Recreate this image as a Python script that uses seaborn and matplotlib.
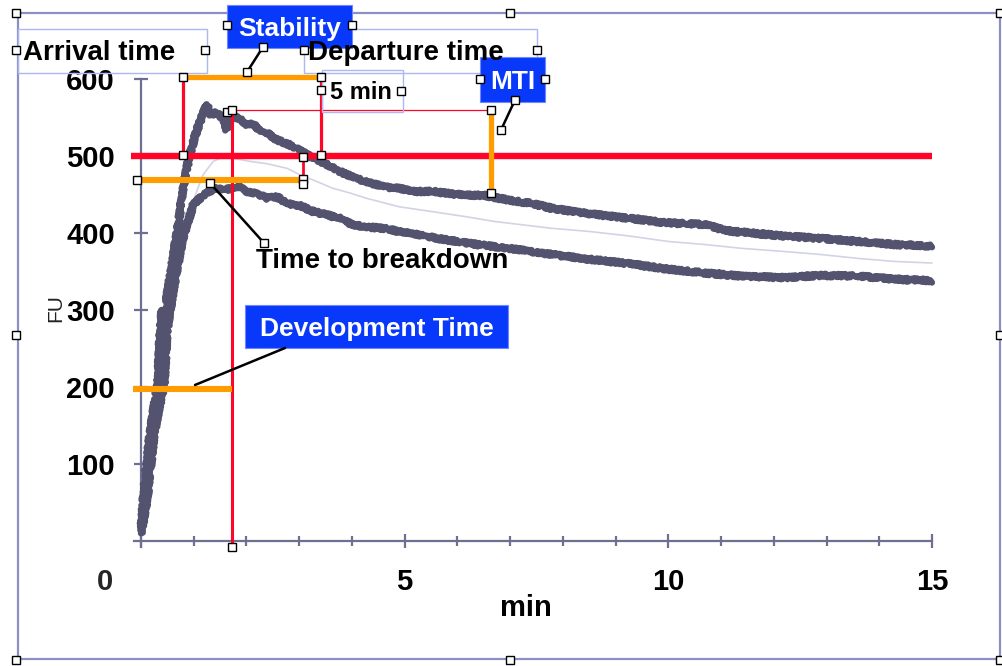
import matplotlib
matplotlib.use("Agg")
import matplotlib.pyplot as plt
import matplotlib.transforms as mtransforms
from matplotlib.patches import Rectangle
from matplotlib.lines import Line2D
import pandas as pd
import seaborn as sns

# ---------------- data ----------------
upper_t = [0.00, 0.04, 0.10, 0.17, 0.25, 0.32, 0.36, 0.40, 0.43, 0.50, 0.60, 0.70, 0.78, 0.90,
           1.02, 1.12, 1.25, 1.31, 1.44, 1.56, 1.63, 1.72, 1.88, 2.00, 2.12, 2.26, 2.39, 2.58,
           2.77, 3.00, 3.26, 3.50, 3.77, 4.00, 4.26, 4.60, 4.90, 5.22, 5.54, 5.86, 6.18, 6.50,
           6.80, 7.13, 7.45, 7.80, 8.50, 9.27, 10.0, 10.7, 11.1, 12.2, 12.9, 13.6, 14.3, 15.0]
upper_fu = [15, 53, 95, 140, 175, 205, 270, 300, 265, 321, 364, 407, 450, 495,
            525, 545, 567, 553, 557, 548, 534, 553, 548, 540, 542, 532, 530, 521,
            516, 508, 497, 490, 480, 473, 467, 460, 458, 454, 454, 451, 449, 449,
            445, 441, 438, 432, 425, 419, 413, 411, 403, 396, 393, 389, 385, 383]

lower_t = [0.00, 0.11, 0.18, 0.25, 0.35, 0.44, 0.49, 0.55, 0.70, 0.80, 0.89, 1.00, 1.12, 1.25,
           1.37, 1.50, 1.63, 1.75, 1.88, 2.00, 2.20, 2.39, 2.58, 2.77, 3.00, 3.26, 3.50, 3.77,
           4.00, 4.26, 4.60, 4.90, 5.63, 6.37, 7.10, 7.80, 8.50, 9.27, 10.0, 10.7, 11.4, 12.2,
           12.9, 13.6, 14.3, 15.0]
lower_fu = [10, 53, 95, 140, 175, 205, 270, 300, 360, 395, 415, 438, 445, 452,
            457, 458, 457, 458, 460, 454, 451, 445, 447, 438, 436, 428, 424, 419,
            411, 408, 406, 402, 393, 385, 379, 372, 366, 360, 353, 348, 344, 342,
            345, 344, 340, 338]

mean_t = [0.85, 0.95, 1.06, 1.18, 1.37, 1.50, 1.75, 2.07, 2.39, 2.77, 3.00, 3.33, 3.64, 3.96,
          4.28, 4.90, 5.50, 6.18, 6.70, 7.80, 8.50, 9.27, 10.0, 10.7, 11.4, 12.2, 12.9, 13.6,
          14.3, 15.0]
mean_fu = [390, 430, 455, 476, 493, 497, 497, 493, 490, 484, 476, 467, 458, 452,
           445, 434, 428, 421, 415, 406, 402, 396, 389, 385, 380, 376, 372, 367,
           363, 361]

x_ticks = [0, 5, 10, 15]
x_tick_labels = ["", "5", "10", "15"]
x_minor_ticks = [1, 2, 3, 4, 6, 7, 8, 9, 11, 12, 13, 14]
y_ticks = [100, 200, 300, 400, 500, 600]
y_tick_labels = ["100", "200", "300", "400", "500", "600"]

# farinograph reference values
consistency_line = 500
arrival_time = 0.80
departure_time = 3.41
development_time = 1.73
peak_fu = 560
mti_time = 6.64
mti_low = 452
breakdown_fu = 469
breakdown_time = 3.07
stability_fu = 603
development_fu = 197

# ---------------- styling ----------------
sns.set_theme(style="white")
plt.rcParams["font.family"] = ["Liberation Sans", "DejaVu Sans"]

W, H = 1003, 666
fig = plt.figure(figsize=(W / 100, H / 100), dpi=100)
fig.patch.set_facecolor("white")

# axes placed so that x 0..15 -> px 141..932, y 0..600 -> px 541..79
px_per_min = (932 - 141) / 15.0
px_per_fu = (541 - 79) / 600.0
xl = (-0.3, 15.2)
yl = (-15, 610)
left_px = 141 + xl[0] * px_per_min
right_px = 141 + xl[1] * px_per_min
bot_px = 541 - yl[0] * px_per_fu
top_px = 541 - yl[1] * px_per_fu
ax = fig.add_axes([left_px / W, (H - bot_px) / H, (right_px - left_px) / W, (bot_px - top_px) / H])
ax.set_xlim(*xl)
ax.set_ylim(*yl)
ax.set_facecolor("none")

pix = mtransforms.Affine2D().scale(1 / W, -1 / H).translate(0, 1) + fig.transFigure

axis_col = "#6f6f92"
curve_col = "#53536f"
mean_col = "#d3d3e6"
red = "#ff0628"
orange = "#ff9c00"
blue = "#0838fa"

# curves
curves = [("upper", upper_t, upper_fu), ("lower", lower_t, lower_fu)]
sns.lineplot(x=mean_t, y=mean_fu, ax=ax, color=mean_col, linewidth=1.2, sort=False,
             estimator=None, zorder=2)
for name, t, v in curves:
    sns.lineplot(x=t, y=v, ax=ax, color=curve_col, linewidth=4.6, sort=False,
                 estimator=None, zorder=3)
for ln in ax.lines[1:]:
    ln.set_sketch_params(scale=1.8, length=3, randomness=2)
    ln.set_solid_joinstyle("round")

# spines & ticks
for s in ["top", "right"]:
    ax.spines[s].set_visible(False)
ax.spines["left"].set_position(("data", 0))
ax.spines["bottom"].set_position(("data", 0))
ax.spines["left"].set_bounds(-8, 600)
ax.spines["bottom"].set_bounds(-0.13, 15)
for s in ["left", "bottom"]:
    ax.spines[s].set_color(axis_col)
    ax.spines[s].set_linewidth(1.6)
    ax.spines[s].set_zorder(1)

ax.set_xticks(x_ticks)
ax.set_xticklabels(x_tick_labels)
ax.set_xticks(x_minor_ticks, minor=True)
ax.set_yticks(y_ticks)
ax.set_yticklabels(y_tick_labels)
ax.tick_params(axis="both", which="both", bottom=True, left=True, top=False, right=False)
ax.tick_params(axis="both", which="major", direction="inout", length=9.5, width=1.6,
               color=axis_col, labelsize=21, labelcolor="black")
ax.tick_params(axis="x", which="minor", direction="inout", length=6.5, width=1.6, color=axis_col)
ax.tick_params(axis="y", which="major", pad=14)
ax.tick_params(axis="x", which="major", pad=14.5)
for lab in ax.get_xticklabels() + ax.get_yticklabels():
    lab.set_fontweight("bold")

ax.set_xlabel("min", fontsize=21, fontweight="bold", color="black")
ax.xaxis.set_label_coords((526 - left_px) / (right_px - left_px), (bot_px - 594) / (bot_px - top_px))
ax.set_ylabel("FU", fontsize=15, color="#222222")
ax.yaxis.set_label_coords((65 - left_px) / (right_px - left_px), (bot_px - 308) / (bot_px - top_px))

# "0" label sits left of the origin in the reference
ax.text(-0.68, 0, "0", fontsize=21, fontweight="bold", ha="center", va="baseline",
        transform=mtransforms.offset_copy(ax.transData, fig=fig, x=0, y=-49 * 0.72, units="points"))

# ---------------- farinograph reference lines ----------------
kw = dict(solid_capstyle="butt", zorder=5, clip_on=False)
ax.plot([-0.19, 15], [consistency_line, consistency_line], color=red, lw=4.6, **kw)
ax.plot([arrival_time, arrival_time], [consistency_line, stability_fu], color=red, lw=2.3, **kw)
ax.plot([departure_time, departure_time], [consistency_line, stability_fu], color=red, lw=2.3, **kw)
ax.plot([arrival_time, departure_time], [stability_fu, stability_fu], color=orange, lw=3.8, **kw)
ax.plot([development_time, development_time], [-9, peak_fu], color=red, lw=2.2, **kw)
ax.plot([development_time, mti_time], [peak_fu, peak_fu], color=red, lw=0.9, **kw)
ax.plot([mti_time, mti_time], [mti_low, peak_fu], color=orange, lw=3.8, **kw)
ax.plot([-0.08, breakdown_time], [breakdown_fu, breakdown_fu], color=orange, lw=4.4, **kw)
ax.plot([breakdown_time, breakdown_time], [breakdown_fu, consistency_line], color=red, lw=2.0, **kw)
ax.plot([-0.15, development_time], [development_fu, development_fu], color=orange, lw=4.4, **kw)

# ---------------- slide decorations (frame, boxes, labels, handles) ----------------
fig.add_artist(Rectangle((18, 13), 982, 646, transform=pix, fill=False, ec="#8a90c4", lw=1.6))
for (x0, y0, w, h) in [(18, 29, 189, 44), (304, 29, 233, 44), (322, 70, 81, 42)]:
    fig.add_artist(Rectangle((x0, y0), w, h, transform=pix, fill=False, ec="#aab9f3", lw=1.0))

for (x0, y0, w, h) in [(227, 5, 125, 43), (480, 57, 65, 45), (245, 305, 263, 43)]:
    fig.add_artist(Rectangle((x0, y0), w, h, transform=pix, fc=blue, ec="#6f86ff", lw=0.8))

txt = dict(transform=pix, ha="center", va="baseline", fontweight="bold")
fig.text(289.5, 36, "Stability", fontsize=19, color="white", **txt)
fig.text(512.5, 89, "MTI", fontsize=19, color="white", **txt)
fig.text(376.5, 336, "Development Time", fontsize=19, color="white", **txt)
fig.text(99.5, 60, "Arrival time", fontsize=20, color="black", **txt)
fig.text(406, 60, "Departure time", fontsize=20, color="black", **txt)
fig.text(361, 99, "5 min", fontsize=17, color="black", **txt)
fig.text(382, 268, "Time to breakdown", fontsize=20, color="black", **txt)

# leader lines
for (xa, ya, xb, yb) in [(263, 47, 247, 72), (515, 100, 501, 130), (210, 183, 264, 243),
                         (195, 385, 285, 348)]:
    fig.add_artist(Line2D([xa, xb], [ya, yb], transform=pix, color="black", lw=1.8))

# selection handles
handles = [(16, 13), (510, 13), (1000, 13), (16, 335), (1000, 335), (16, 660), (510, 660), (1000, 660),
           (16, 50), (205, 50), (304, 50), (537, 50), (227, 25), (352, 25), (263, 47), (247, 72),
           (183, 77), (321, 77), (183, 155), (321, 90), (321, 155), (227, 112), (232, 110),
           (137, 180), (303, 157), (303, 179), (303, 184), (210, 183), (264, 243),
           (480, 79), (545, 79), (491, 110), (491, 193), (515, 100), (501, 130),
           (401, 91), (232, 547)]
fig.add_artist(Line2D([h[0] for h in handles], [h[1] for h in handles], transform=pix,
                      linestyle="none", marker="s", markersize=5.5, markerfacecolor="white",
                      markeredgecolor="black", markeredgewidth=1.0))

fig.savefig("out.png", dpi=100, facecolor="white")
